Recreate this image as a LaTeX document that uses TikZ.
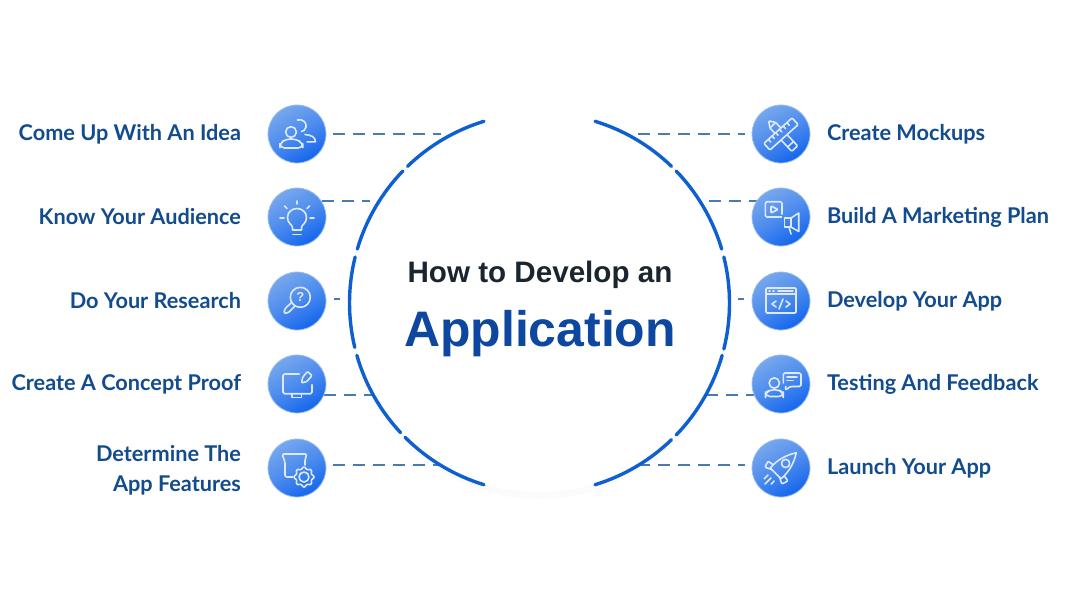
\documentclass[tikz,border=0pt]{standalone}
\usepackage{fontspec}
\setmainfont{Liberation Sans}
\newfontfamily\labfont{Lato}
\definecolor{labblue}{HTML}{134C8E}
\definecolor{ringblue}{HTML}{0E5FD0}
\definecolor{dashblue}{HTML}{4A7BB0}
\definecolor{titledark}{HTML}{1B2530}
\definecolor{titleblue}{HTML}{0D479F}
\definecolor{iconline}{HTML}{DCE9FF}
\definecolor{iconmid}{HTML}{4C8BEE}
\definecolor{badgetop}{HTML}{76A7EC}
\definecolor{badgelow}{HTML}{1566EC}
\definecolor{badgeedge}{HTML}{9CBFF3}
\tikzset{
  every node/.style={inner sep=0pt,outer sep=0pt},
  badge/.style={circle,minimum size=58pt,draw=badgeedge,line width=.8pt,top color=badgetop,bottom color=badgelow,middle color=iconmid,shading angle=30},
  ringarc/.style={draw=ringblue,line width=3.4pt,line cap=round},
  dashline/.style={draw=dashblue,line width=1.7pt,dash pattern=on 12pt off 8pt},
  lab/.style={font=\labfont\bfseries\fontsize{21.7}{30}\selectfont,text=labblue},
  labl/.style={lab,anchor=east,align=right},
  labr/.style={lab,anchor=west,align=left},
  ic/.style={draw=iconline,line width=1.6pt,line cap=round,line join=round},
}
\begin{document}
\begin{tikzpicture}[x=1pt,y=-1pt]
\useasboundingbox (0,0) rectangle (1067,606);
\fill[white] (0,0) rectangle (1067,606);
\coordinate (c) at (539.5,303);
\fill[black!1.5] (539.5,308) circle[radius=191];
\fill[white] (c) circle[radius=189];
% connector ends
\foreach \n/\x/\y in {a1/333/134,a2/322/201,a3/334/299,a4/324/395,a5/333/465,b1/441/134,b2/370/201,b3/340/299,b4/373/395,b5/441/465,
  d1/745/134,d2/757/201,d3/744/299,d4/754/395,d5/745/465,e1/638/134,e2/709/201,e3/738/299,e4/706/395,e5/638/465}
  {\coordinate (\n) at (\x,\y);}
\foreach \i in {1,...,5}{
  \draw[dashline] (a\i) -- (b\i);
  \draw[dashline] (e\i) -- (d\i);
}
% ring
\foreach \s/\e in {-107/-134,-136/-163.5,-166/-193.5,-196/-223,-225/-253,-73/-46,-44/-16.5,-14/14,16/44,46/73}
  \draw[ringarc] (c) ++(\s:190) arc[start angle=\s,end angle=\e,radius=190];
% title
\node (t1) at (540,274.5) {\bfseries\fontsize{29.6}{34}\selectfont\textcolor{titledark}{How to Develop an}};
\node (t2) at (540,333.5) {\bfseries\fontsize{49.9}{56}\selectfont\textcolor{titleblue}{Application}};
% badges
\node[badge] (i1) at (297,134) {};
\node[badge] (i2) at (297,217) {};
\node[badge] (i3) at (297,301) {};
\node[badge] (i4) at (297,384) {};
\node[badge] (i5) at (297,468) {};
\node[badge] (j1) at (781,134) {};
\node[badge] (j2) at (781,217) {};
\node[badge] (j3) at (781,301) {};
\node[badge] (j4) at (781,384) {};
\node[badge] (j5) at (781,468) {};
% labels
\node[labl] (l1) at (241,134.5) {Come Up With An Idea};
\node[labl] (l2) at (241,217) {Know Your Audience};
\node[labl] (l3) at (241,301) {Do Your Research};
\node[labl] (l4) at (241,384.5) {Create A Concept Proof};
\node[labl] (l5) at (241,470.5) {Determine The\\App Features};
\node[labr] (r1) at (827,134.5) {Create Mockups};
\node[labr] (r2) at (827,217.5) {Build A Marketing Plan};
\node[labr] (r3) at (827,301.5) {Develop Your App};
\node[labr] (r4) at (827,384.5) {Testing And Feedback};
\node[labr] (r5) at (827,468.5) {Launch Your App};
% icon: people
\begin{scope}[shift={(i1.center)},ic]
  \draw (-6,-2) circle[radius=5.4];
  \draw[rounded corners=4.5] (-17,14) -- (-17,9) -- (-11,5) -- (-1,5) -- (5.7,9) -- (5.7,14) -- cycle;
  \draw (0.5,-14) .. controls (6,-15.5) and (10,-11) .. (9,-7) .. controls (8.5,-4) and (6,-2.5) .. (4.5,-2.5);
  \draw (8,0.5) .. controls (14,1) and (18.5,3) .. (18.5,7.8) -- (10,7.8);
\end{scope}
% icon: bulb
\begin{scope}[shift={(i2.center)},ic]
  \draw (-4.5,13) -- (-4.5,10.5) .. controls (-5,7) and (-9.5,6.5) .. (-9.5,0.5) .. controls (-9.5,-5) and (-5,-8.5) .. (0,-8.5) .. controls (5,-8.5) and (9.5,-5) .. (9.5,0.5) .. controls (9.5,6.5) and (5,7) .. (4.5,10.5) -- (4.5,13) -- cycle;
  \draw (-4,17.5) -- (4,17.5);
  \draw (0,-16) -- (0,-13);
  \draw (-12.5,-11) -- (-10,-8.5);
  \draw (12.5,-11) -- (10,-8.5);
  \draw (-17,1) -- (-13,1);
  \draw (17,1) -- (13,1);
\end{scope}
% icon: magnifier
\begin{scope}[shift={(i3.center)},ic]
  \draw (3.3,-3.7) circle[radius=10];
  \draw[rounded corners=2] (-1.8,4.8) -- (-9.3,12.3) -- (-13,12.3) -- (-12.9,8.6) -- (-5.2,1.2);
  \node[text=iconline,font=\bfseries\fontsize{13}{13}\selectfont] (q) at (3.3,-3.7) {?};
\end{scope}
% icon: monitor
\begin{scope}[shift={(i4.center)},ic]
  \draw[rounded corners=1.5] (2.3,-10) -- (-14,-10) -- (-14,9.7) -- (15,9.7) -- (15,0.7);
  \draw (-5,9.7) -- (-5,13.5) -- (4.3,13.5) -- (4.3,9.7);
  \draw[rounded corners=1] (4.5,-1) -- (5.7,-6.8) -- (10.5,-12.5) -- (15,-8.5) -- (10,-2.6) -- cycle;
\end{scope}
% icon: features
\begin{scope}[shift={(i5.center)},ic]
  \draw[rounded corners=1.5] (-4,9) -- (-12,9) -- (-12,-6) -- (-15,-14) -- (10,-14) -- (8,-8.5) -- (8,-3);
  \draw[shift={(7,9)},smooth] plot[domain=0:360,samples=65] ({(9+1*cos(8*\x))*cos(\x)},{(9+1*cos(8*\x))*sin(\x)});
  \draw (7,9) circle[radius=5];
\end{scope}
% icon: ruler and pencil
\begin{scope}[shift={(j1.center)},ic]
  \begin{scope}[rotate=-47]
    \draw[rounded corners=1] (-12,-4) -- (20,-4) -- (20,4) -- (-12,4) -- (-18,0) -- cycle;
    \draw (-12,-4) -- (-12,4);
    \draw (14,-4) -- (14,4);
  \end{scope}
  \begin{scope}[rotate=42]
    \draw[rounded corners=1,fill=iconmid] (-19,-4.5) rectangle (19,4.5);
    \foreach \t in {-13,-8,-3,2,7,12} \draw (\t,-4.5) -- (\t,-1);
  \end{scope}
\end{scope}
% icon: marketing
\begin{scope}[shift={(j2.center)},ic]
  \draw[rounded corners=1.5] (0.5,0) -- (-15.7,0) -- (-15.7,-15.3) -- (1,-15.3) -- (1,-3);
  \draw[rounded corners=.8] (-10,-11) -- (-3,-7.5) -- (-10,-4) -- cycle;
  \draw (3.3,1) rectangle (10,10);
  \draw (10,1) -- (17.7,-4) -- (17.7,14.5) -- (10,10);
  \draw (8,10) -- (10,17);
\end{scope}
% icon: code window
\begin{scope}[shift={(j3.center)},ic]
  \draw[rounded corners=1] (-15,-13) rectangle (15,12);
  \draw (-15,-7) -- (15,-7);
  \draw (-12,-10) -- (-11,-10) (-8,-10) -- (-7,-10) (-3,-10) -- (12,-10);
  \draw (-5,0) -- (-9,3) -- (-5,6);
  \draw (5,0) -- (9,3) -- (5,6);
  \draw (2,-2) -- (-2,8);
\end{scope}
% icon: person and chat
\begin{scope}[shift={(j4.center)},ic]
  \draw (-6.7,-1) circle[radius=5.2];
  \draw[rounded corners=4.5] (-15.7,12.5) -- (-15.7,9) -- (-11,5.7) -- (-2,5.7) -- (2.3,9) -- (2.3,12.5) -- cycle;
  \draw[rounded corners=1.5] (2.3,-1) -- (2.3,-11) -- (20,-11) -- (20,2.5) -- (9,2.5) -- (4.3,6.5) -- (4.8,2.5);
  \draw (6,-7) -- (16,-7);
  \draw (6,-3.5) -- (12,-3.5);
\end{scope}
% icon: rocket
\begin{scope}[shift={(j5.center)},ic]
  \begin{scope}[rotate=45,scale=1.08]
    \draw (-7,-7) .. controls (3,-8) and (12,-5) .. (20,0) .. controls (12,5) and (3,8) .. (-7,7) -- cycle;
    \draw (6,0) circle[radius=3.8];
    \draw[rounded corners=1] (-3,-7.5) -- (-4,-13) -- (-10,-11) -- (-7,-5);
    \draw[rounded corners=1] (-3,7.5) -- (-4,13) -- (-10,11) -- (-7,5);
    \draw (-13,-4) -- (-18,-4);
    \draw (-13,0) -- (-21,0);
    \draw (-13,4) -- (-17,4);
  \end{scope}
\end{scope}
\end{tikzpicture}
\end{document}
